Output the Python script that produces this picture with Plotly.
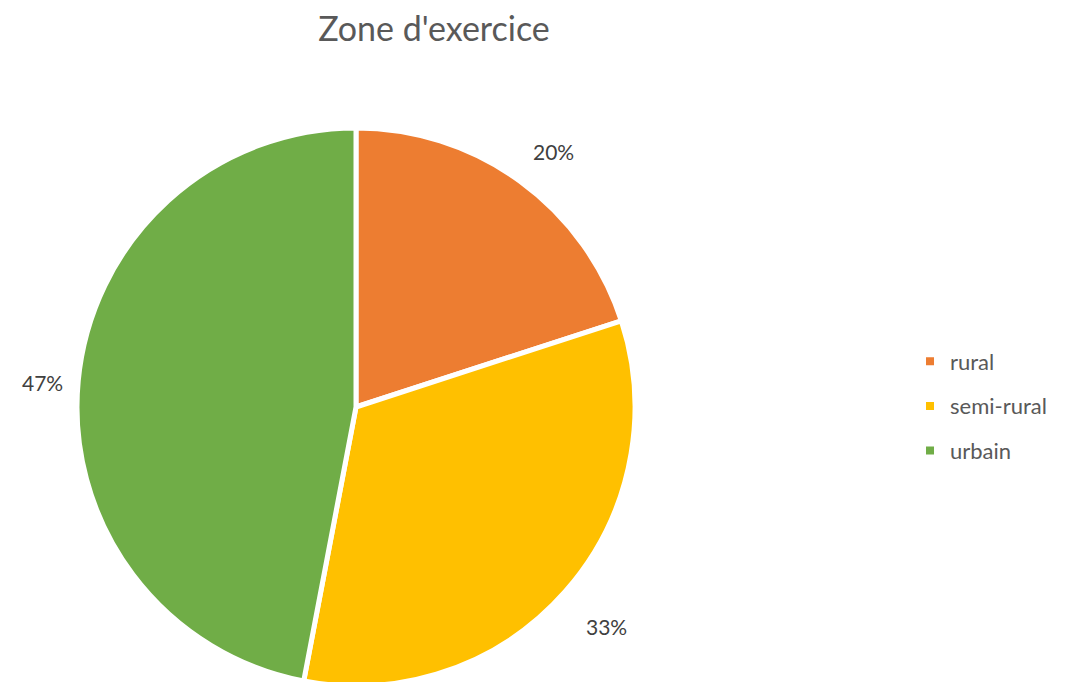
import math
import plotly.graph_objects as go

# Zone d'exercice (parts en %)
zones = ["rural", "semi-rural", "urbain"]
parts = [20, 33, 47]
couleurs = ["#ED7D31", "#FFC000", "#70AD47"]

W, H = 1070, 682
FONT = "Lato, Open Sans, sans-serif"

# cadre du camembert (pixels, depuis le haut/gauche)
cx, cy, half = 348, 399, 279

fig = go.Figure(go.Pie(
    labels=zones,
    values=parts,
    sort=False,
    direction="clockwise",
    rotation=0,
    marker=dict(colors=couleurs, line=dict(color="white", width=5)),
    textinfo="none",
    showlegend=False,
    automargin=False,
    domain=dict(x=[(cx - half) / W, (cx + half) / W],
                y=[(H - cy - half) / H, (H - cy + half) / H]),
    hoverinfo="label+percent",
))

# étiquettes de pourcentage placées à l'extérieur, au milieu de chaque part
total = sum(parts)
centre_x, centre_y, r_lab = 356, 405, 323
cumul = 0
for v in parts:
    ang = 2 * math.pi * (cumul + v / 2) / total
    cumul += v
    fig.add_annotation(
        x=(centre_x + r_lab * math.sin(ang)) / W,
        y=1 - (centre_y - r_lab * math.cos(ang)) / H,
        xref="paper", yref="paper",
        xanchor="center", yanchor="middle",
        text=f"{round(100 * v / total)}%",
        showarrow=False,
        font=dict(family=FONT, size=21, color="#404040"),
    )

# légende : traces fantômes à marqueurs carrés
for i, (z, c) in enumerate(zip(zones, couleurs)):
    fig.add_trace(go.Scatter(
        x=[None], y=[None], mode="markers", name=z,
        marker=dict(symbol="square", size=8, color=c),
        legendgroup=f"g{i}", showlegend=True, hoverinfo="skip",
    ))

fig.update_xaxes(visible=False)
fig.update_yaxes(visible=False)

fig.update_layout(
    width=W, height=H,
    margin=dict(l=0, r=0, t=0, b=0),
    paper_bgcolor="white",
    plot_bgcolor="white",
    font=dict(family=FONT, color="#595959"),
    title=dict(
        text="Zone d'exercice",
        x=426 / W, xanchor="center",
        y=1 - 21 / H, yanchor="middle",
        font=dict(size=34, color="#595959"),
    ),
    legend=dict(
        x=0.843, xanchor="left",
        y=1 - 398 / H, yanchor="middle",
        font=dict(size=22, color="#595959"),
        tracegroupgap=13,
        itemwidth=30,
    ),
)

fig.write_html("out.html")
